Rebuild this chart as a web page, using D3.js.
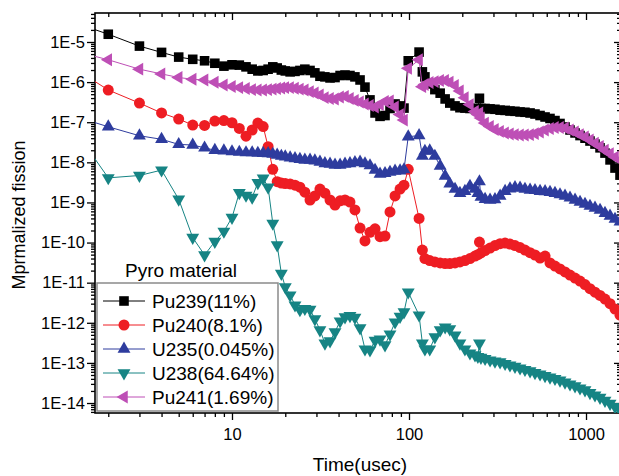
<!DOCTYPE html>
<html>
<head>
<meta charset="utf-8">
<script src="https://cdn.jsdelivr.net/npm/d3@7"></script>
<style>
  body { margin: 0; background: #fff; }
  svg text { font-family: "Liberation Sans", Arial, sans-serif; fill: #000; }
</style>
</head>
<body>
<svg id="chart" width="619" height="476"></svg>
<script>
var time = [1, 2, 3, 4, 5, 6, 7, 8, 9, 10, 11, 12, 13, 14, 15, 16, 17, 18, 19,
    20, 21.3, 22.7, 24.2, 25.8, 27.6, 29.4, 31.4, 33.5, 35.8, 38.2, 40.8, 43.5, 46.4, 49.5,
    52.9, 56.4, 60.2, 64.3, 68.6, 73.2, 78.1, 83.4, 89, 93.7,
    99, 114, 119,
    123, 131, 140, 150, 160, 170, 182, 194, 207, 221, 236, 245, 250, 255,
    269, 287, 306, 327, 349, 372, 397, 424, 452, 483, 515, 550, 587, 626, 668, 713,
    761, 812, 867, 925, 987, 1053, 1124, 1200, 1280, 1367, 1458, 1556];

var pu239 = [4.5e-5, 1.56e-5, 7.9e-6, 5.5e-6, 4.2e-6, 3.7e-6, 3.4e-6, 2.95e-6, 2.5e-6, 2.7e-6,
    2.65e-6, 2.4e-6, 2.1e-6, 1.9e-6, 1.95e-6, 2.1e-6, 2.4e-6, 2.25e-6, 2.0e-6,
    1.9e-6, 1.8e-6, 1.85e-6, 1.95e-6, 2.1e-6, 1.95e-6, 1.7e-6, 1.4e-6, 1.35e-6, 1.27e-6,
    1.3e-6, 1.46e-6, 1.5e-6, 1.46e-6, 1.35e-6, 1.13e-6, 7.5e-7, 3.6e-7, 1.7e-7, 1.4e-7,
    1.47e-7, 2.2e-7, 2.85e-7, 2.55e-7, 2.25e-7,
    3.4e-6, 5.6e-6, 1.8e-6,
    1.35e-6, 9.0e-7, 6.5e-7, 5.3e-7, 3.8e-7, 3.0e-7, 2.55e-7, 2.3e-7, 2.25e-7, 2.2e-7,
    2.2e-7, 2.2e-7, 3.95e-7, 2.2e-7,
    2.2e-7, 2.15e-7, 2.1e-7, 2.0e-7, 1.97e-7, 1.9e-7, 1.87e-7, 1.8e-7, 1.77e-7, 1.7e-7,
    1.6e-7, 1.47e-7, 1.35e-7, 1.24e-7, 1.1e-7, 9.3e-8, 7.6e-8, 6.4e-8, 5.4e-8, 4.65e-8,
    4.0e-8, 3.4e-8, 2.85e-8, 2.3e-8, 1.7e-8, 1.15e-8, 7.2e-9, 4.8e-9];

var pu240 = [4.5e-6, 6.35e-7, 3.0e-7, 1.7e-7, 1.2e-7, 8.5e-8, 8.3e-8, 1.07e-7, 1.1e-7, 9.7e-8,
    7.0e-8, 4.5e-8, 6.4e-8, 9.5e-8, 7.8e-8, 2.45e-8, 6.7e-9, 3.3e-9, 3.05e-9,
    2.95e-9, 2.9e-9, 2.7e-9, 2.4e-9, 1.8e-9, 1.15e-9, 1.45e-9, 2.15e-9, 1.7e-9, 1.15e-9,
    8.6e-10, 1.1e-9, 1.15e-9, 1.02e-9, 6.5e-10, 2.3e-10, 1.1e-10, 1.8e-10, 2.2e-10, 1.4e-10,
    1.45e-10, 5.8e-10, 1.45e-9, 2.15e-9, 2.7e-9,
    6.7e-9, 4.0e-10, 6.5e-11,
    4.0e-11, 3.55e-11, 3.3e-11, 3.1e-11, 3.0e-11, 3.0e-11, 3.1e-11, 3.3e-11, 3.55e-11, 4.0e-11,
    4.6e-11, 5.0e-11, 1.03e-10, 5.5e-11,
    6.3e-11, 7.3e-11, 8.4e-11, 9.4e-11, 9.7e-11, 9.2e-11, 8.4e-11, 7.5e-11, 6.5e-11, 5.6e-11,
    4.9e-11, 4.1e-11, 4.6e-11, 3.1e-11, 2.6e-11, 2.2e-11, 1.85e-11, 1.55e-11, 1.3e-11, 1.1e-11,
    9.0e-12, 7.1e-12, 5.8e-12, 4.8e-12, 3.9e-12, 3.0e-12, 2.2e-12, 1.55e-12];

var u235 = [2.0e-7, 7.7e-8, 4.6e-8, 3.75e-8, 2.8e-8, 2.7e-8, 2.3e-8, 2.0e-8, 1.95e-8, 1.85e-8,
    1.8e-8, 1.75e-8, 1.75e-8, 1.7e-8, 1.68e-8, 1.66e-8, 1.6e-8, 1.52e-8, 1.43e-8,
    1.38e-8, 1.3e-8, 1.25e-8, 1.2e-8, 1.14e-8, 1.14e-8, 1.1e-8, 1.02e-8, 9.4e-9, 9.1e-9,
    8.6e-9, 8.6e-9, 9.1e-9, 9.4e-9, 9.9e-9, 1.02e-8, 9.3e-9, 8.3e-9, 6.4e-9, 5.1e-9,
    5.3e-9, 5.7e-9, 6.1e-9, 6.2e-9, 6.6e-9,
    4.35e-8, 4.65e-8, 1.43e-8,
    1.9e-8, 1.95e-8, 1.43e-8, 8.1e-9, 4.55e-9, 2.9e-9, 2.15e-9, 1.7e-9, 1.9e-9, 2.55e-9,
    2.15e-9, 1.7e-9, 3.3e-9, 1.37e-9,
    1.2e-9, 1.15e-9, 1.18e-9, 1.45e-9, 1.9e-9, 2.2e-9, 2.35e-9, 2.3e-9, 2.15e-9, 2.05e-9,
    2.0e-9, 1.9e-9, 1.87e-9, 1.8e-9, 1.7e-9, 1.57e-9, 1.45e-9, 1.3e-9, 1.15e-9, 1.02e-9,
    9.1e-10, 8.1e-10, 7.25e-10, 6.45e-10, 5.4e-10, 4.6e-10, 3.85e-10, 3.3e-10];

var u238 = [3.2e-7, 4.1e-9, 4.7e-9, 6.4e-9, 1.2e-9, 1.33e-10, 4.9e-11, 1.06e-10, 1.9e-10, 4.2e-10,
    1.75e-9, 1.5e-9, 1.34e-9, 3.1e-9, 4.0e-9, 2.4e-9, 3.0e-10, 8.7e-11, 1.7e-11,
    7.8e-12, 4.9e-12, 2.75e-12, 2.1e-12, 2.25e-12, 2.15e-12, 1.24e-12, 6.6e-13, 3.1e-13, 3.5e-13,
    5.9e-13, 1.1e-12, 1.4e-12, 1.5e-12, 1.35e-12, 7.4e-13, 2.2e-13, 2.1e-13, 3.6e-13, 3.9e-13,
    2.8e-13, 5.2e-13, 1.04e-12, 1.43e-12, 1.85e-12,
    5.8e-12, 1.55e-12, 3.1e-13,
    2.2e-13, 2.2e-13, 4.4e-13, 6.6e-13, 7.8e-13, 7.0e-13, 4.9e-13, 3.1e-13, 2.2e-13, 1.75e-13,
    1.57e-13, 1.43e-13, 3.1e-13, 1.36e-13,
    1.28e-13, 1.17e-13, 1.1e-13, 1.05e-13, 9.6e-14, 8.8e-14, 8.1e-14, 7.4e-14, 6.8e-14, 6.25e-14,
    5.7e-14, 5.25e-14, 4.8e-14, 4.4e-14, 4.05e-14, 3.7e-14, 3.3e-14, 2.95e-14, 2.65e-14, 2.35e-14,
    2.1e-14, 1.8e-14, 1.57e-14, 1.37e-14, 1.15e-14, 9.7e-15, 8.1e-15, 6.6e-15];

var pu241 = [7.9e-6, 3.6e-6, 2.1e-6, 1.6e-6, 1.3e-6, 1.18e-6, 1.13e-6, 9.9e-7, 8.5e-7, 7.8e-7,
    7.3e-7, 6.9e-7, 6.5e-7, 6.35e-7, 6.35e-7, 6.5e-7, 6.7e-7, 6.9e-7, 7.1e-7,
    7.3e-7, 7.3e-7, 7.0e-7, 6.7e-7, 6.35e-7, 5.8e-7, 5.35e-7, 4.8e-7, 4.1e-7, 3.9e-7,
    3.8e-7, 4.25e-7, 4.4e-7, 3.9e-7, 3.5e-7, 3.2e-7, 2.85e-7, 2.6e-7, 2.4e-7, 2.75e-7,
    3.3e-7, 3.4e-7, 2.4e-7, 1.55e-7, 1.13e-7,
    2.2e-6, 3.6e-6, 7.7e-7,
    8.7e-7, 9.8e-7, 1.03e-6, 1.1e-6, 1.1e-6, 1.0e-6, 8.2e-7, 6.0e-7, 4.1e-7, 2.75e-7,
    1.85e-7, 1.55e-7, 1.7e-7, 1.27e-7,
    9.5e-8, 7.8e-8, 6.6e-8, 5.9e-8, 5.4e-8, 5.1e-8, 4.9e-8, 4.8e-8, 4.8e-8, 4.9e-8,
    5.2e-8, 5.7e-8, 6.4e-8, 7.0e-8, 7.4e-8, 7.4e-8, 7.2e-8, 6.4e-8, 5.7e-8, 4.9e-8,
    4.3e-8, 3.6e-8, 3.0e-8, 2.5e-8, 2.0e-8, 1.65e-8, 1.35e-8, 1.15e-8];

var seriesNames = ["Pu239(11%)", "Pu240(8.1%)", "U235(0.045%)", "U238(64.64%)", "Pu241(1.69%)"];
var seriesValues = [pu239, pu240, u235, u238, pu241];
var xTickValues = [10, 100, 1000];
var yTickValues = [1e-5, 1e-6, 1e-7, 1e-8, 1e-9, 1e-10, 1e-11, 1e-12, 1e-13, 1e-14];

var colors = ["#000000", "#ee1d23", "#2e3c9e", "#168484", "#be4fb6"];
var shapes = [
    {type: d3.symbolSquare, size: 92, rot: 0},
    {type: d3.symbolCircle, size: 95, rot: 0},
    {type: d3.symbolTriangle, size: 72, rot: 0},
    {type: d3.symbolTriangle, size: 72, rot: 180},
    {type: d3.symbolTriangle, size: 72, rot: -90}
];

var L = 95, R = 620, T = 13, B = 413;
var svg = d3.select('#chart');

var x = d3.scaleLog().domain([1.683, 1556]).range([L, R]);
var y = d3.scaleLog().domain([5.64e-15, 5.28e-5]).range([B, T]);

var minorX = [], minorY = [];
[1, 10, 100, 1000].forEach(function (d) {
    for (var k = 2; k < 10; k++) {
        var v = k * d;
        if (v > x.domain()[0] && v < x.domain()[1]) minorX.push(v);
    }
});
for (var e = -15; e <= -5; e++) {
    for (var k = 2; k < 10; k++) {
        var v = k * Math.pow(10, e);
        if (v > y.domain()[0] && v < y.domain()[1]) minorY.push(v);
    }
}

function styleAxis(g) {
    g.select('.domain').remove();
    g.selectAll('line').attr('stroke', '#000').attr('stroke-width', 1.3);
    g.selectAll('text').attr('font-size', 16.5).attr('fill', '#000')
        .attr('font-family', '"Liberation Sans", Arial, sans-serif');
}

// bottom
svg.append('g').attr('transform', 'translate(0,' + B + ')')
    .call(d3.axisBottom(x).tickValues(xTickValues).tickSize(7).tickSizeOuter(0).tickPadding(8)
        .tickFormat(d3.format('d')))
    .call(styleAxis);
svg.append('g').attr('transform', 'translate(0,' + B + ')')
    .call(d3.axisBottom(x).tickValues(minorX).tickSize(4).tickSizeOuter(0).tickFormat(''))
    .call(styleAxis);
// top
svg.append('g').attr('transform', 'translate(0,' + T + ')')
    .call(d3.axisTop(x).tickValues(xTickValues).tickSize(-7).tickSizeOuter(0).tickFormat(''))
    .call(styleAxis);
svg.append('g').attr('transform', 'translate(0,' + T + ')')
    .call(d3.axisTop(x).tickValues(minorX).tickSize(-4).tickSizeOuter(0).tickFormat(''))
    .call(styleAxis);
// left
svg.append('g').attr('transform', 'translate(' + L + ',0)')
    .call(d3.axisLeft(y).tickValues(yTickValues).tickSize(8).tickSizeOuter(0).tickPadding(2)
        .tickFormat(function (d) { return '1E' + Math.round(Math.log10(d)); }))
    .call(styleAxis);
svg.append('g').attr('transform', 'translate(' + L + ',0)')
    .call(d3.axisLeft(y).tickValues(minorY).tickSize(4).tickSizeOuter(0).tickFormat(''))
    .call(styleAxis);
// right
svg.append('g').attr('transform', 'translate(' + R + ',0)')
    .call(d3.axisRight(y).tickValues(yTickValues).tickSize(-6).tickSizeOuter(0).tickFormat(''))
    .call(styleAxis);
svg.append('g').attr('transform', 'translate(' + R + ',0)')
    .call(d3.axisRight(y).tickValues(minorY).tickSize(-3).tickSizeOuter(0).tickFormat(''))
    .call(styleAxis);

svg.append('rect').attr('x', L).attr('y', T).attr('width', R - L).attr('height', B - T)
    .attr('fill', 'none').attr('stroke', '#000').attr('stroke-width', 1.6);

// clip
svg.append('clipPath').attr('id', 'plotclip').append('rect')
    .attr('x', L).attr('y', T).attr('width', R - L).attr('height', B - T);

var plot = svg.append('g').attr('clip-path', 'url(#plotclip)');
var line = d3.line().x(function (d) { return x(d[0]); }).y(function (d) { return y(d[1]); });

seriesValues.forEach(function (vals, i) {
    var pts = time.map(function (t, j) { return [t, vals[j]]; });
    var g = plot.append('g');
    g.append('path').datum(pts).attr('d', line)
        .attr('fill', 'none').attr('stroke', colors[i]).attr('stroke-width', 1);
    var sym = d3.symbol().type(shapes[i].type).size(shapes[i].size);
    g.selectAll('path.mk').data(pts).enter().append('path').attr('class', 'mk')
        .attr('d', sym)
        .attr('transform', function (d) {
            return 'translate(' + x(d[0]) + ',' + y(d[1]) + ') rotate(' + shapes[i].rot + ')';
        })
        .attr('fill', colors[i]);
});

// legend
svg.append('text').attr('x', 125).attr('y', 277).attr('font-size', 19).text('Pyro material');
var lg = svg.append('g');
lg.append('rect').attr('x', 97).attr('y', 283).attr('width', 181).attr('height', 128)
    .attr('fill', '#fff').attr('stroke', '#8a8a8a').attr('stroke-width', 1.5);
seriesNames.forEach(function (name, i) {
    var cy = 301 + i * 24;
    lg.append('line').attr('x1', 103).attr('x2', 145).attr('y1', cy).attr('y2', cy)
        .attr('stroke', colors[i]).attr('stroke-width', 1);
    lg.append('path').attr('d', d3.symbol().type(shapes[i].type).size(shapes[i].size))
        .attr('transform', 'translate(124,' + cy + ') rotate(' + shapes[i].rot + ')')
        .attr('fill', colors[i]);
    lg.append('text').attr('x', 152).attr('y', cy + 7).attr('font-size', 19).text(name);
});

// axis titles
svg.append('text').attr('x', 360).attr('y', 471).attr('text-anchor', 'middle')
    .attr('font-size', 19).text('Time(usec)');
svg.append('text').attr('transform', 'translate(25,215) rotate(-90)')
    .attr('text-anchor', 'middle').attr('font-size', 18).text('Mprmalized fission');
</script>
</body>
</html>
